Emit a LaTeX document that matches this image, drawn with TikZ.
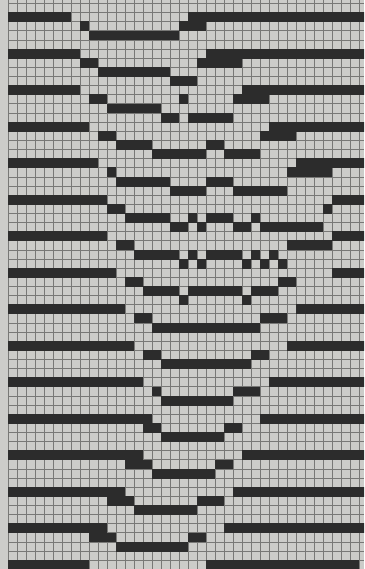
\documentclass[tikz,border=0pt]{standalone}
\definecolor{paper}{RGB}{204,204,201}
\definecolor{gridc}{RGB}{120,120,118}
\definecolor{ink}{RGB}{44,44,44}
\begin{document}
\begin{tikzpicture}[x=1pt,y=-1pt,
  gridline/.style={draw=gridc, line width=0.95pt},
  cell/.style={fill=ink}]
\useasboundingbox (0,0) rectangle (364,569);
\fill[paper] (0,0) rectangle (364,569);
\begin{scope}
\clip (0,0) rectangle (364,569);
\foreach \c in {0,...,40} \draw[gridline] ({8+9*\c},0) -- ({8+9*\c},569);
\foreach \r in {0,...,62} \draw[gridline] (8,{3.57+9.127*\r}) -- (364,{3.57+9.127*\r});
\foreach \r/\a/\b in {
 1/0/6, 1/20/39,
 2/8/8, 2/19/21,
 3/9/18,
 5/0/7, 5/22/39,
 6/8/9, 6/21/25,
 7/10/17,
 8/18/20,
 9/0/7, 9/26/39,
 10/9/10, 10/19/19, 10/25/28,
 11/11/16,
 12/17/18, 12/20/24,
 13/0/8, 13/29/39,
 14/10/11, 14/28/31,
 15/12/15, 15/22/23,
 16/16/21, 16/24/27,
 17/0/9, 17/32/39,
 18/11/11, 18/31/35,
 19/12/17, 19/22/24,
 20/18/21, 20/25/30,
 21/0/10, 21/36/39,
 22/11/12, 22/35/35,
 23/13/17, 23/20/20, 23/22/24, 23/27/27,
 24/18/19, 24/21/21, 24/25/26, 24/28/34,
 25/0/10, 25/36/39,
 26/12/13, 26/31/35,
 27/14/18, 27/20/20, 27/22/25, 27/27/27, 27/29/29,
 28/19/19, 28/21/21, 28/26/26, 28/28/28, 28/30/30,
 29/0/11, 29/36/39,
 30/13/14, 30/30/31,
 31/15/18, 31/20/25, 31/27/29,
 32/19/19, 32/26/26,
 33/0/12, 33/32/39,
 34/14/15, 34/28/30,
 35/16/27,
 37/0/13, 37/31/39,
 38/15/16, 38/27/28,
 39/17/26,
 41/0/14, 41/29/39,
 42/16/16, 42/25/27,
 43/17/24,
 45/0/15, 45/28/39,
 46/15/16, 46/24/25,
 47/17/23,
 49/0/14, 49/26/39,
 50/13/15, 50/23/24,
 51/16/22,
 53/0/12, 53/25/39,
 54/11/13, 54/21/23,
 55/14/20,
 57/0/10, 57/24/39,
 58/9/11, 58/20/21,
 59/12/19,
 61/0/8, 61/22/38}
 \fill[cell] ({8+9*\a-0.4},{3.57+9.127*\r-0.4}) rectangle ({8+9*(\b+1)+0.4},{3.57+9.127*(\r+1)+0.4});
\end{scope}
\end{tikzpicture}
\end{document}
